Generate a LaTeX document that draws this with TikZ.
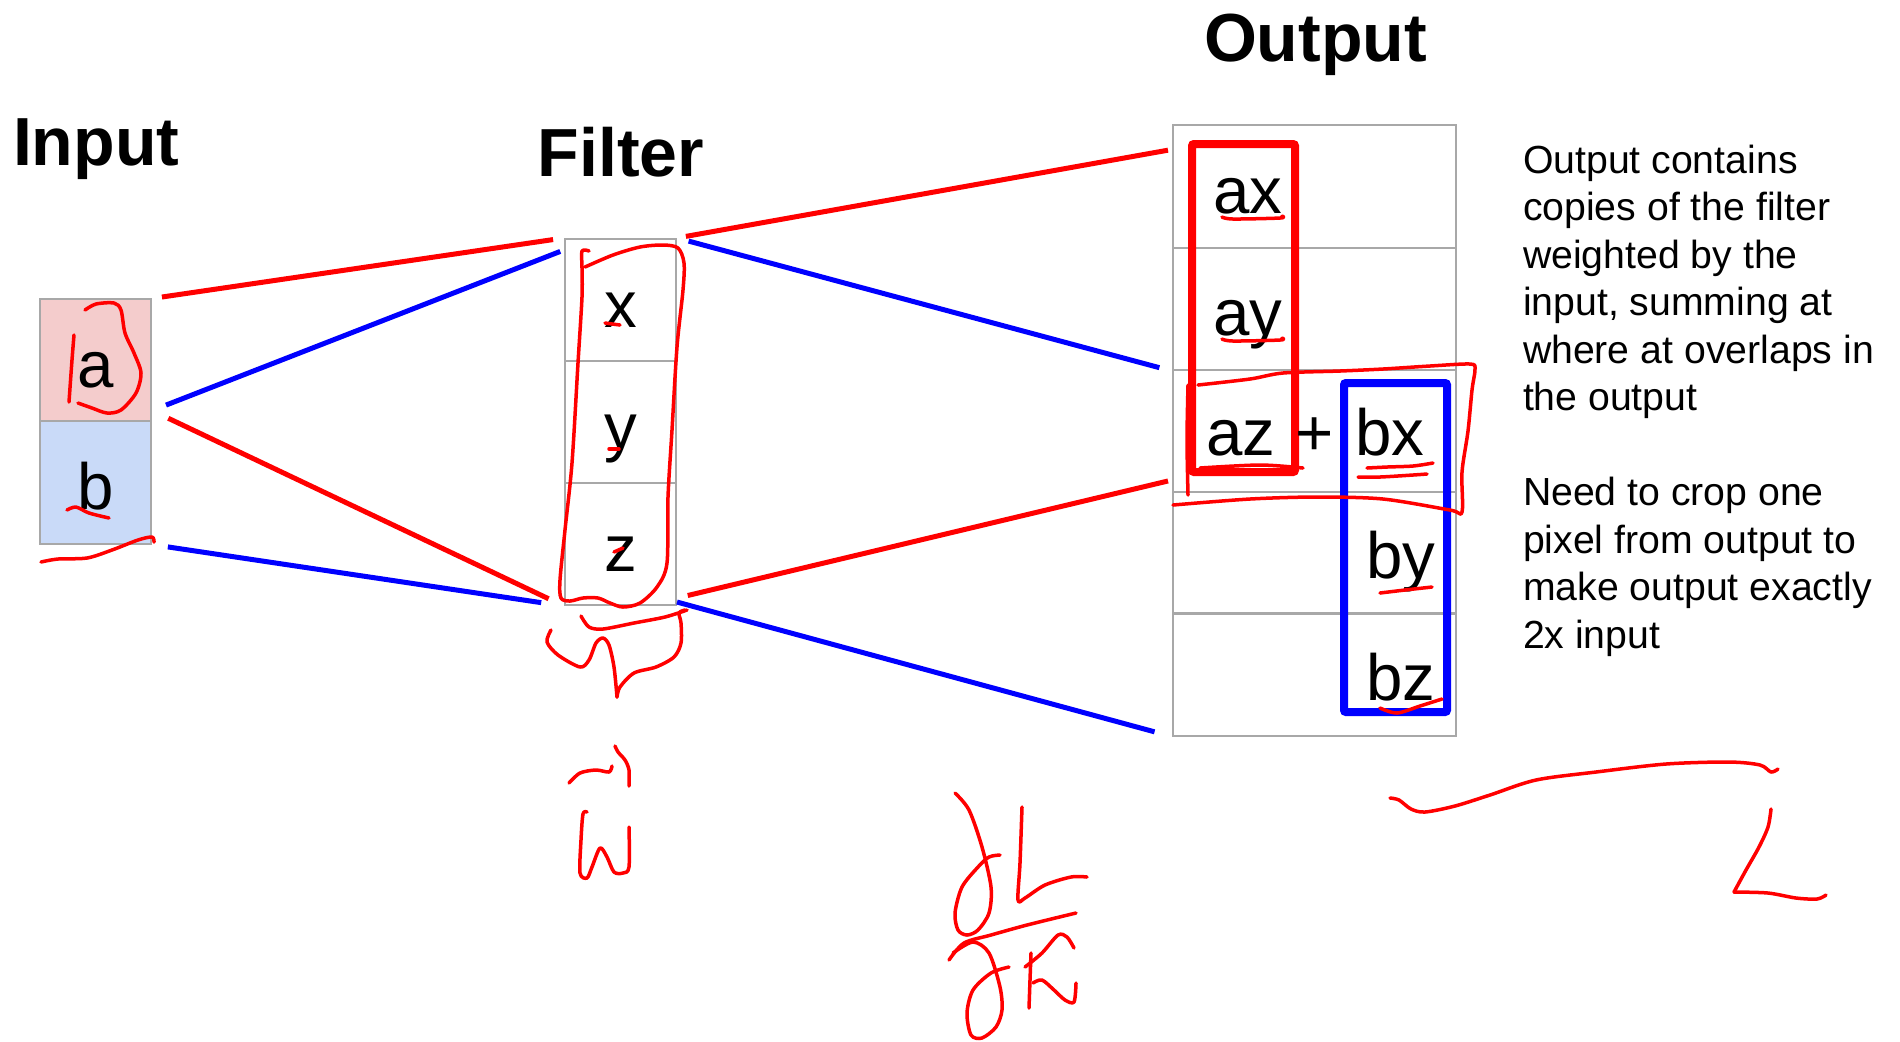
\documentclass[tikz,border=0pt]{standalone}
\usepackage{fontspec}
\setmainfont{Liberation Sans}
\usetikzlibrary{calc}
\definecolor{cellpink}{HTML}{F4CCCC}
\definecolor{cellblue}{HTML}{C9DAF8}
\definecolor{gridgray}{HTML}{A8A8A8}
\begin{document}
\begin{tikzpicture}[x=.01cm,y=-.01cm,line width=.02cm,
  headtext/.style={inner sep=0,font=\fontsize{19.35}{23}\selectfont\bfseries},
  fcell/.style={draw=gridgray,inner sep=0,minimum width=1.11cm,minimum height=1.22cm,text height=.54cm,text depth=0cm,font=\fontsize{18.6}{22}\selectfont},
  ocell/.style={draw=gridgray,inner sep=0,minimum width=2.83cm,minimum height=1.22cm},
  celltext/.style={inner sep=0,anchor=base,font=\fontsize{18.6}{22}\selectfont},
  sidenote/.style={inner sep=0,anchor=north west,align=left,font=\fontsize{11.15}{13.5}\selectfont},
  redline/.style={red,line width=.05cm},
  blueline/.style={blue,line width=.05cm},
  handink/.style={red,line width=.035cm,line cap=round,line join=round}]
  \useasboundingbox (0,0) rectangle (1900,1041);
  % headings
  \node[headtext,anchor=base west] (inhead) at (12,165) {Input};
  \node[headtext,anchor=base] (fhead) at (621,176) {Filter};
  \node[headtext,anchor=base] (ohead) at (1315.5,61) {Output};
  % input and filter
  \node[fcell,fill=cellpink] (inA) at (95.5,360.5) {a};
  \node[fcell,fill=cellblue] (inB) at (95.5,482.5) {b};
  \node[fcell] (fx) at (620.5,300) {x};
  \node[fcell] (fy) at (620.5,422) {y};
  \node[fcell] (fz) at (620.5,544) {z};
  % output grid
  \node[ocell] (o1) at (1314.5,186.5) {};
  \node[ocell] (o2) at (1314.5,309) {};
  \node[ocell] (o3) at (1314.5,431) {};
  \node[ocell] (o4) at (1314.5,553) {};
  \node[ocell] (o5) at (1314.5,674.5) {};
  % connectors
  \draw[redline,shorten <=.1cm,shorten >=.11cm] (inA.north east) -- (fx.north west);
  \draw[blueline,shorten <=.15cm,shorten >=.04cm] ($(inA.south east)+(0,-12)$) -- ($(fx.north west)+(0,12)$);
  \draw[redline,shorten <=.18cm,shorten >=.17cm] ($(inA.south east)+(0,-12)$) -- (fz.south west);
  \draw[blueline,shorten <=.16cm,shorten >=.23cm] (inB.south east) -- (fz.south west);
  \draw[redline,shorten <=.09cm,shorten >=.04cm] (fx.north east) -- ($(o1.north west)+(0,25)$);
  \draw[blueline,shorten <=.12cm,shorten >=.13cm] (fx.north east) -- (o2.south west);
  \draw[redline,shorten <=.11cm,shorten >=.04cm] ($(fz.south east)+(0,-8)$) -- ($(o3.south west)+(0,-13)$);
  \draw[blueline,shorten >=.18cm] ($(fz.south east)+(0,-4)$) -- (o5.south west);
  % filter copies
  \draw[red,line width=.08cm,rounded corners=.02cm] (1192,144) rectangle (1295,472);
  \draw[blue,line width=.08cm,rounded corners=.02cm] (1344,383) rectangle (1447,712);
  \node[celltext] (ax) at (1248,213) {ax};
  \node[celltext] (ay) at (1248,335) {ay};
  \node[celltext] (az) at (1241,455) {az};
  \node[celltext] (plus) at (1315,455) {+};
  \node[celltext] (bx) at (1390,455) {bx};
  \node[celltext] (by) at (1401,578) {by};
  \node[celltext] (bz) at (1401,700) {bz};
  % notes
  \node[sidenote] (note) at (1522,144) {Output contains\\copies of the filter\\weighted by the\\input, summing at\\where at overlaps in\\the output\\[.475cm]Need to crop one\\pixel from output to\\make output exactly\\2x input};
  % pen marks
  \draw[handink] plot[smooth,tension=.5] coordinates {(74,335) (72,360) (69,402)};
  \draw[handink] plot[smooth,tension=.5] coordinates {(85,310) (96,304) (114,303) (121,310) (125,333) (134,353) (141,373) (136,393) (121,410) (107,413) (92,408) (78,403)};
  \draw[handink] plot[smooth,tension=.5] coordinates {(67,510) (76,507) (89,513) (109,518)};
  \draw[handink] plot[smooth,tension=.5] coordinates {(41,562) (58,559) (87,558) (112,550) (138,540) (152,537) (154,542)};
  \draw[handink] plot[smooth,tension=.5] coordinates {(589,251) (582,251) (582,268) (582,297) (578,363) (572,463) (565,530) (560,580) (561,598) (570,601) (583,598) (598,598) (610,603) (623,607) (640,603) (657,587) (667,563) (668,497) (672,430) (677,347) (683,290) (684,263) (678,248) (663,245) (640,247) (613,255) (585,267)};
  \draw[handink] (605,323) -- (620,325);
  \draw[handink] (609,449) -- (619,449);
  \draw[handink] (614,552) -- (623,548);
  \draw[handink] plot[smooth,tension=.5] coordinates {(581,616) (589,627) (603,629) (634,623) (665,617) (687,610)};
  \draw[handink] plot[smooth,tension=.5] coordinates {(551,630) (547,642) (558,655) (580,667) (589,660) (596,643) (603,638) (609,645) (614,667) (617,697)};
  \draw[handink] plot[smooth,tension=.5] coordinates {(617,697) (620,687) (634,673) (656,667) (674,657) (681,643) (681,623) (679,613) (685,610)};
  \draw[handink] plot[smooth,tension=.5] coordinates {(569,783) (580,773) (596,770) (609,772) (612,766)};
  \draw[handink] plot[smooth,tension=.5] coordinates {(615,746) (618,752) (625,760) (629,770) (629,786)};
  \draw[handink] plot[smooth,tension=.5] coordinates {(587,812) (583,814) (581,840) (580,873) (587,878) (592,867) (600,848) (607,857) (614,872) (623,873) (629,867) (629,827)};
  \draw[handink] plot[smooth,tension=.5] coordinates {(955,793) (969,810) (982,847) (991,887) (989,913) (978,930) (967,935) (958,930) (955,913) (962,887) (978,867) (989,857) (1000,855)};
  \draw[handink] plot[smooth,tension=.5] coordinates {(1022,807) (1020,863) (1018,900) (1025,898) (1045,885) (1071,877) (1087,877)};
  \draw[handink] plot[smooth,tension=.5] coordinates {(949,960) (964,943) (991,935) (1027,925) (1076,913)};
  \draw[handink] plot[smooth,tension=.5] coordinates {(953,953) (973,942) (989,953) (1000,987) (1002,1010) (996,1027) (982,1038) (971,1035) (967,1013) (973,990) (991,973) (1009,967)};
  \draw[handink] plot[smooth,tension=.5] coordinates {(1025,967) (1042,953) (1058,935) (1067,937) (1074,948)};
  \draw[handink] plot[smooth,tension=.5] coordinates {(1031,953) (1030,980) (1029,1008)};
  \draw[handink] plot[smooth,tension=.5] coordinates {(1033,983) (1042,980) (1054,990) (1065,1000) (1074,1002) (1076,983)};
  \draw[handink] plot[smooth,tension=.5] coordinates {(1222,217) (1233,219) (1280,218) (1282,216)};
  \draw[handink] plot[smooth,tension=.5] coordinates {(1222,339) (1233,341) (1280,340) (1282,338)};
  \draw[handink] plot[smooth,tension=.5] coordinates {(1200,468) (1260,465) (1303,468)};
  \draw[handink] plot[smooth,tension=.5] coordinates {(1367,468) (1387,467) (1413,466) (1433,463)};
  \draw[handink] plot[smooth,tension=.5] coordinates {(1358,477) (1380,477) (1413,475) (1427,474)};
  \draw[handink] plot[smooth,tension=.5] coordinates {(1380,593) (1405,590) (1432,587)};
  \draw[handink] plot[smooth,tension=.5] coordinates {(1380,708) (1397,713) (1420,706) (1442,699)};
  \draw[handink] plot[smooth,tension=.5] coordinates {(1188,385) (1187,440) (1188,495)};
  \draw[handink] plot[smooth,tension=.5] coordinates {(1198,385) (1250,379) (1283,373) (1340,371) (1383,369) (1430,366) (1470,364) (1475,369) (1472,390) (1468,431) (1462,472) (1462,512) (1450,510) (1383,499) (1317,497) (1250,499) (1173,505)};
  \draw[handink] plot[smooth,tension=.5] coordinates {(1390,798) (1399,800) (1411,809) (1425,812) (1455,806) (1490,795) (1536,780) (1596,772) (1666,764) (1729,762) (1760,765) (1771,772) (1778,769)};
  \draw[handink] plot[smooth,tension=.5] coordinates {(1771,809) (1768,827) (1759,847) (1746,870) (1734,892)};
  \draw[handink] plot[smooth,tension=.5] coordinates {(1734,892) (1768,893) (1796,898) (1817,899) (1826,895)};
\end{tikzpicture}
\end{document}
